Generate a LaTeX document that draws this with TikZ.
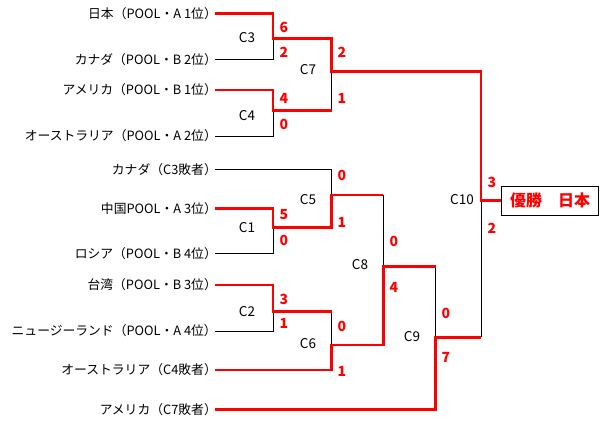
\documentclass[tikz,border=0pt]{standalone}
\usepackage{fontspec}
\setmainfont{Noto Sans CJK JP}

\begin{document}
\begin{tikzpicture}[x=1pt, y=-1pt,
    team/.style={anchor=east, inner ysep=2pt, inner xsep=-2pt, font=\fontsize{12.8}{14}\selectfont},
    match/.style={inner sep=0pt, font=\fontsize{13.5}{15}\selectfont},
    score/.style={inner sep=0pt, text=red, font=\fontsize{14}{15}\selectfont\bfseries},
    lose/.style={line width=0.9pt},
    win/.style={red, line width=2.8pt},
    champ/.style={draw, line width=0.9pt, minimum width=96.6pt, minimum height=29pt,
        text=red, font=\fontsize{16}{18}\selectfont\bfseries}]
    \useasboundingbox (0,0) rectangle (600,424);

    % teams
    \node[team] (jpn)  at (215,13.3)  {日本（POOL・A 1位）};
    \node[team] (canA) at (215,59.3)  {カナダ（POOL・B 2位）};
    \node[team] (usaA) at (215,90)    {アメリカ（POOL・B 1位）};
    \node[team] (ausA) at (215,136)   {オーストラリア（POOL・A 2位）};
    \node[team] (canB) at (215,169.3) {カナダ（C3敗者）};
    \node[team] (chn)  at (215,208.3) {中国POOL・A 3位）};
    \node[team] (rus)  at (215,253.3) {ロシア（POOL・B 4位）};
    \node[team] (twn)  at (215,285)   {台湾（POOL・B 3位）};
    \node[team] (nzl)  at (215,331)   {ニュージーランド（POOL・A 4位）};
    \node[team] (ausB) at (215,370)   {オーストラリア（C4敗者）};
    \node[team] (usaB) at (215,409.3) {アメリカ（C7敗者）};

    % matches
    \coordinate (c3)  at (273,38.7);
    \coordinate (c4)  at (273,110.7);
    \coordinate (c1)  at (273,227.7);
    \coordinate (c2)  at (273,311.7);
    \coordinate (c7)  at (331.7,71.3);
    \coordinate (c5)  at (331.7,195);
    \coordinate (c6)  at (331.7,345);
    \coordinate (c8)  at (383.3,266.7);
    \coordinate (c9)  at (435.7,337.3);
    \coordinate (c10) at (481,200.5);

    \node[champ] (champ) at (550,200.5) {優勝　日本};

    % losers
    \draw[lose] (canA.east) -| (c3);
    \draw[lose] (ausA.east) -| (c4);
    \draw[lose] (canB.east) -| (c5);
    \draw[lose] (rus.east) -| (c1);
    \draw[lose] (nzl.east) -| (c2);
    \draw[lose] (c4 -| c7) -- (c7);
    \draw[lose] (c2 -| c6) -- (c6);
    \draw[lose] (c5 -| c8) -- (c8);
    \draw[lose] (c8 -| c9) -- (c9);
    \draw[lose] (c9 -| c10) -- (c10);

    % winners
    \draw[win] (jpn.east) -| (c3) -| (c7) -| (c10) -- (champ.west);
    \draw[win] (usaA.east) -| (c4) -- (c4 -| c7);
    \draw[win] (chn.east) -| (c1) -| (c5) -- (c5 -| c8);
    \draw[win] (twn.east) -| (c2) -- (c2 -| c6);
    \draw[win] (ausB.east) -| (c6) -| (c8) -- (c8 -| c9);
    \draw[win] (usaB.east) -| (c9) -- (c9 -| c10);

    % match labels
    \node[match] (m3)  at (247,38)  {C3};
    \node[match] (m4)  at (247,116) {C4};
    \node[match] (m1)  at (247,228) {C1};
    \node[match] (m2)  at (247,312) {C2};
    \node[match] (m7)  at (308,70)  {C7};
    \node[match] (m5)  at (308,200) {C5};
    \node[match] (m6)  at (308,344) {C6};
    \node[match] (m8)  at (360,265) {C8};
    \node[match] (m9)  at (412,337) {C9};
    \node[match] (m10) at (462,200) {C10};

    % scores
    \node[score] (s3a)  at (284,27)  {6};
    \node[score] (s3b)  at (284,52)  {2};
    \node[score] (s4a)  at (284,98)  {4};
    \node[score] (s4b)  at (284,124) {0};
    \node[score] (s1a)  at (284,215) {5};
    \node[score] (s1b)  at (284,240) {0};
    \node[score] (s2a)  at (284,299) {3};
    \node[score] (s2b)  at (284,323) {1};
    \node[score] (s7a)  at (342,52)  {2};
    \node[score] (s7b)  at (342,98)  {1};
    \node[score] (s5a)  at (342,175) {0};
    \node[score] (s5b)  at (342,222) {1};
    \node[score] (s6a)  at (342,326) {0};
    \node[score] (s6b)  at (342,371) {1};
    \node[score] (s8a)  at (394,241) {0};
    \node[score] (s8b)  at (394,287) {4};
    \node[score] (s9a)  at (446,313) {0};
    \node[score] (s9b)  at (446,357) {7};
    \node[score] (s10a) at (492,182) {3};
    \node[score] (s10b) at (492,228) {2};
\end{tikzpicture}
\end{document}
